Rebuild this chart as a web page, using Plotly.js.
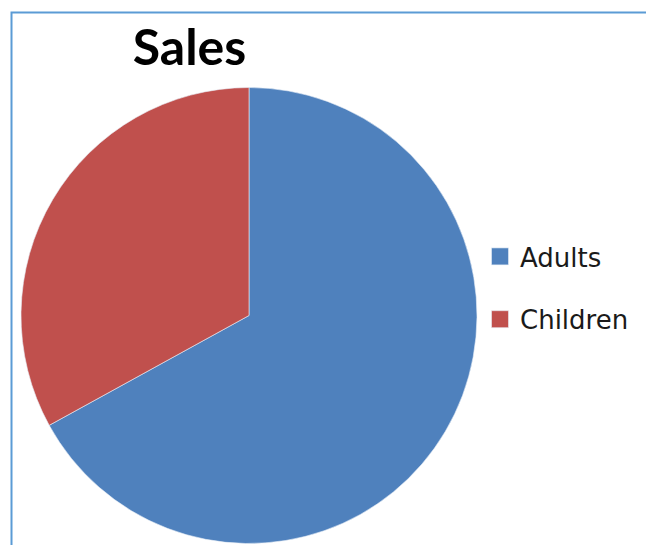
<!DOCTYPE html>
<html>
<head>
<meta charset="utf-8">
<script src="https://cdn.plot.ly/plotly-3.0.1.min.js"></script>
<style>html,body{margin:0;padding:0;background:#fff;}#chart{width:646px;height:545px;}</style>
</head>
<body>
<div id="chart"></div>
<script>
const categories = ["Adults", "Children"];
const sales = [67, 33];
const colors = ["#4f81bd", "#c0504d"];
const chartTitle = "Sales";

const W = 646, H = 545;
const trace = {
  type: "pie",
  labels: categories,
  values: sales,
  sort: false,
  direction: "clockwise",
  rotation: 0,
  textinfo: "none",
  hoverinfo: "label+value",
  marker: {colors: colors, line: {color: "#e8eef6", width: 0.6}},
  domain: {x: [21 / W, 477 / W], y: [1 / H, 457 / H + 1 / H]}
};
const layout = {
  width: W, height: H,
  margin: {l: 0, r: 0, t: 0, b: 0},
  paper_bgcolor: "#ffffff",
  showlegend: true,
  title: {
    text: "<b>" + chartTitle + "</b>",
    font: {family: "Lato, sans-serif", size: 50, color: "#000000"},
    x: 189.5 / W, xanchor: "center", xref: "paper",
    y: 1 - 30 / H, yanchor: "top", yref: "container"
  },
  legend: {
    x: 480 / W, xanchor: "left", y: 1 - 233 / H, yanchor: "top",
    font: {family: "DejaVu Sans, sans-serif", size: 26, color: "#1a1a1a"},
    bgcolor: "rgba(0,0,0,0)"
  },
  shapes: [{
    type: "rect", xref: "paper", yref: "paper",
    x0: 11.5 / W, x1: 1.05, y0: -0.05, y1: 1 - 12.5 / H,
    line: {color: "#5b9bd5", width: 2}, fillcolor: "rgba(0,0,0,0)"
  }]
};
function tweakLegend(gd) {
  const sb = gd.querySelector(".legend .scrollbox");
  if (sb) sb.removeAttribute("clip-path");
  const items = gd.querySelectorAll(".legend .traces");
  items.forEach(function (g, i) {
    const m = /translate\(\s*([-\d.]+)[ ,]+([-\d.]+)\s*\)/.exec(g.getAttribute("transform") || "");
    if (m && i > 0) {
      g.setAttribute("transform", "translate(" + m[1] + "," + (parseFloat(m[2]) + 26 * i) + ")");
    }
    g.querySelectorAll(".legendpoints path").forEach(function (p) {
      p.setAttribute("d", "M8.5,8.5H-8.5V-8.5H8.5Z");
    });
  });
}
Plotly.newPlot("chart", [trace], layout, {displayModeBar: false}).then(function (gd) {
  tweakLegend(gd);
});
</script>
</body>
</html>
